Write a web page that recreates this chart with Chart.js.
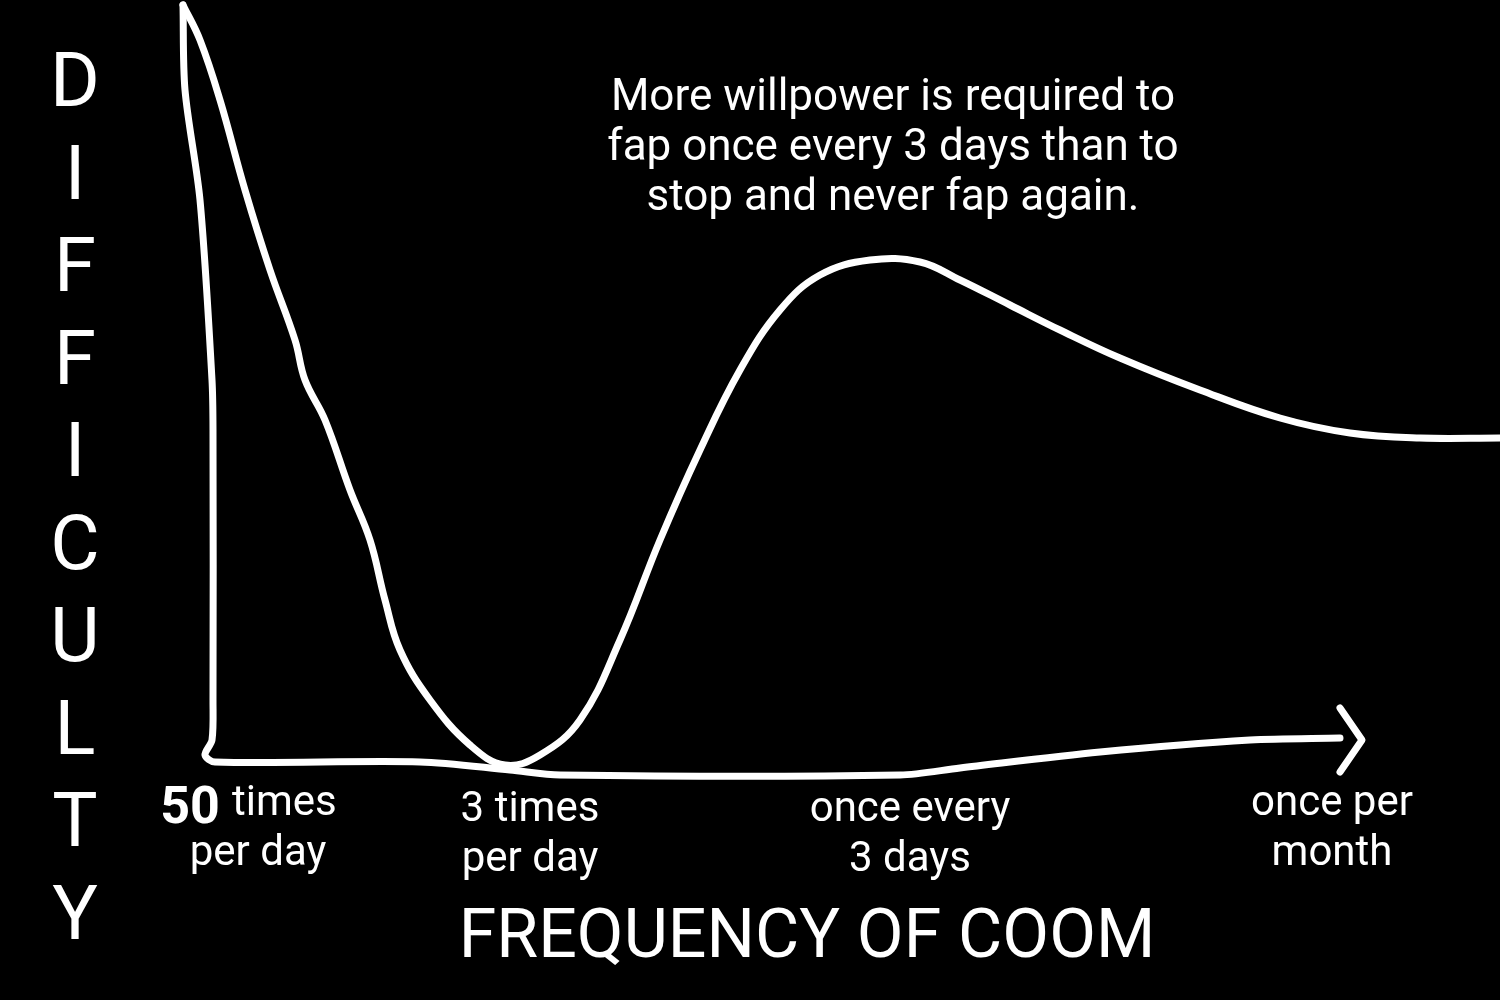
<!DOCTYPE html>
<html>
<head>
<style>body{margin:0;background:#000}canvas{display:block}</style>
<script src="https://cdn.jsdelivr.net/npm/chart.js@4"></script>
</head>
<body>
<canvas id="c" width="1500" height="1000"></canvas>
<script>
// curve (x = frequency position, y = difficulty)
var curveX = [183,200,220,245,270,295,305,325,350,370,385,400,430,470,505,540,580,620,660,700,740,780,820,870,920,960,1010,1060,1120,1200,1280,1350,1420,1500];
var curveY = [995,960,900,810,730,660,620,580,510,460,400,350,300,255,235,245,280,360,460,550,630,690,725,740,738,720,695,670,642,610,582,567,562,562];
// hand-drawn axes
var axisX = [183,185,200,212,213,213,212,205,215,420,510,560,900,960,1100,1250,1340];
var axisY = [995,910,800,620,570,300,260,245,238,238,230,225,225,232,248,260,262];
var arrowX = [1340,1362,1340];
var arrowY = [292,260,228];

var yLetters = ['D','I','F','F','I','C','U','L','T','Y'];
var tickLabels = [
  {x: 293, lines: ['times', 'per day']},
  {x: 530, lines: ['3 times', 'per day']},
  {x: 910, lines: ['once every', '3 days']},
  {x: 1332, lines: ['once per', 'month']}
];
var note = ['More willpower is required to', 'fap once every 3 days than to', 'stop and never fap again.'];

function pts(xs, ys) { return xs.map(function (x, i) { return {x: x, y: ys[i]}; }); }

var textPlugin = {
  id: 'texts',
  afterDraw: function (chart) {
    var c = chart.ctx;
    c.save();
    c.fillStyle = '#fff';
    c.textAlign = 'center';
    c.textBaseline = 'middle';
    c.font = '76px Roboto';
    yLetters.forEach(function (l, i) { c.fillText(l, 75, 87 + i * 92.5); });
    c.font = '44px Roboto';
    note.forEach(function (l, i) { c.fillText(l, 893, 99 + i * 50); });
    c.font = '42px Roboto';
    tickLabels.forEach(function (t, i) {
      var x = t.x, y0 = (i === 0 || i === 3) ? 804 : 810;
      if (i === 0) { c.textAlign = 'left'; c.fillText(t.lines[0], 232, y0); c.textAlign = 'center'; c.fillText(t.lines[1], 258, y0 + 50); }
      else { c.fillText(t.lines[0], x, y0); c.fillText(t.lines[1], x, y0 + 50); }
    });
    c.font = 'bold 52px Roboto';
    c.fillText('50', 190, 810);
    c.font = '68px Roboto';
    c.fillText('FREQUENCY OF COOM', 807, 940);
    c.restore();
  }
};

var line = {showLine: true, borderColor: '#fff', borderWidth: 7, pointRadius: 0, fill: false, borderCapStyle: 'round', borderJoinStyle: 'round'};

new Chart(document.getElementById('c').getContext('2d'), {
  type: 'scatter',
  data: {
    datasets: [
      Object.assign({data: pts(curveX, curveY), tension: 0.4}, line),
      Object.assign({data: pts(axisX, axisY), tension: 0.3}, line),
      Object.assign({data: pts(arrowX, arrowY), tension: 0}, line)
    ]
  },
  options: {
    responsive: false,
    animation: false,
    layout: {padding: 0},
    plugins: {legend: {display: false}, tooltip: {enabled: false}},
    scales: {
      x: {type: 'linear', min: 0, max: 1500, display: false},
      y: {type: 'linear', min: 0, max: 1000, display: false}
    }
  },
  plugins: [{id: 'bg', beforeDraw: function (ch) { ch.ctx.fillStyle = '#000'; ch.ctx.fillRect(0, 0, 1500, 1000); }}, textPlugin]
});
</script>
</body>
</html>
